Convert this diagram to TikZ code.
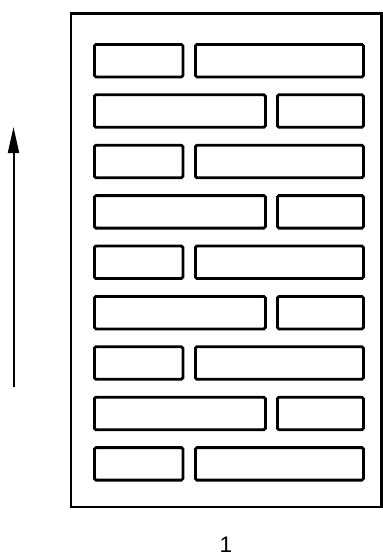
\documentclass[tikz,border=0pt]{standalone}
\usepackage{fontspec}
\setmainfont{Liberation Sans}
\usetikzlibrary{
    positioning,
    arrows.meta
}

\tikzset{
    wall/.style={draw, line width=2.8pt, inner sep=0pt,
        minimum width=310.5pt, minimum height=493.5pt},
    brick/.style={draw, line width=2.8pt, rounded corners=1.5pt,
        inner sep=0pt, anchor=north west, minimum height=32.5pt}
}

\begin{document}
\begin{tikzpicture}[x=1pt,y=-1pt]
    \useasboundingbox (0,0) rectangle (383,558);

    % outer frame
    \node[wall] (frame) at (226.25,260.25) {};

    % rows with the short brick on the left
    \foreach \i in {0,2,4,6,8}{
        \node[brick, minimum width=88.5pt] (brickL\i) at (93,43+50.4*\i) {};
        \node[brick, minimum width=168pt] (brickR\i) at (194,43+50.4*\i) {};
    }
    % rows with the short brick on the right
    \foreach \i in {1,3,5,7}{
        \node[brick, minimum width=171pt] (brickL\i) at (93,43+50.4*\i) {};
        \node[brick, minimum width=86pt] (brickR\i) at (276,43+50.4*\i) {};
    }

    % direction arrow
    \coordinate (arrowfoot) at (13.5,387);
    \coordinate (arrowtip) at (13.5,127);
    \draw[line width=2pt, -{Triangle[length=26pt,width=11pt]}] (arrowfoot) -- (arrowtip);

    \node[font=\fontsize{22.5}{25}\selectfont, inner sep=1pt] (caption) at (226,545) {1};
\end{tikzpicture}
\end{document}
